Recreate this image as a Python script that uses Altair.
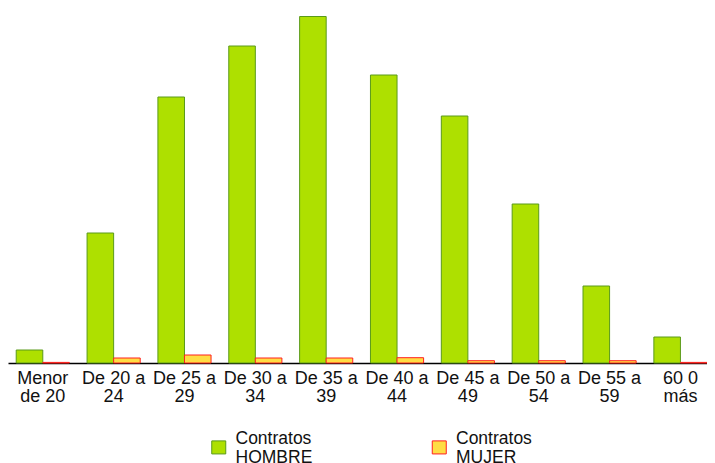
import altair as alt
import pandas as pd

categories = ["Menor|de 20", "De 20 a|24", "De 25 a|29", "De 30 a|34", "De 35 a|39",
              "De 40 a|44", "De 45 a|49", "De 50 a|54", "De 55 a|59", "60 0|más"]
hombre = [13, 130, 266, 317, 346.5, 288, 247, 159, 77, 26]
mujer = [0.6, 5, 8, 5, 5, 5.3, 2.3, 2.3, 2.3, 0.6]
series = ["Contratos|HOMBRE", "Contratos|MUJER"]
fills = ["#AEE000", "#FFDD44"]
strokes = ["#5A9A1A", "#FF2020"]

rows = []
for c, h, m in zip(categories, hombre, mujer):
    rows.append({"grupo": c, "serie": series[0], "valor": h})
    rows.append({"grupo": c, "serie": series[1], "valor": m})
df = pd.DataFrame(rows)

font = "Liberation Sans"
# square symbol shifted down so it sits centred on the two-line legend label
square_low = "M-1,0.29L1,0.29L1,2.15L-1,2.15Z"

chart = alt.Chart(df).mark_bar(strokeWidth=1).encode(
    x=alt.X("grupo:N", sort=categories, title=None,
            scale=alt.Scale(paddingInner=0.25, paddingOuter=0.058, align=1),
            axis=alt.Axis(labelExpr="split(datum.label, '|')", labelAngle=0,
                          ticks=False, domainColor="#000000", domainWidth=1.5,
                          labelFontSize=18, labelLineHeight=18, labelColor="#111111",
                          labelPadding=6, labelFont=font, labelAlign="center",
                          labelBaseline="top")),
    xOffset=alt.XOffset("serie:N", sort=series),
    y=alt.Y("valor:Q", scale=alt.Scale(domain=[0, 355], nice=False), axis=None),
    color=alt.Color("serie:N", sort=series,
                    scale=alt.Scale(domain=series, range=fills),
                    legend=alt.Legend(title=None, orient="none", direction="horizontal",
                                      legendX=202, legendY=422, padding=0,
                                      labelExpr="split(datum.label, '|')",
                                      labelFontSize=17.5,
                                      labelFont=font, labelColor="#111111",
                                      symbolType=square_low, symbolSize=196,
                                      symbolStrokeWidth=1, labelOffset=8,
                                      columnPadding=116.5, labelLimit=200)),
    stroke=alt.Stroke("serie:N", sort=series,
                      scale=alt.Scale(domain=series, range=strokes), legend=None),
).properties(
    width=699, height=355,
    autosize=alt.AutoSizeParams(type="none"),
    padding={"left": 0, "top": 0, "right": 0, "bottom": 100},
).configure_view(stroke=None)

chart.save("out.html", embed_options={"renderer": "svg", "actions": False})
